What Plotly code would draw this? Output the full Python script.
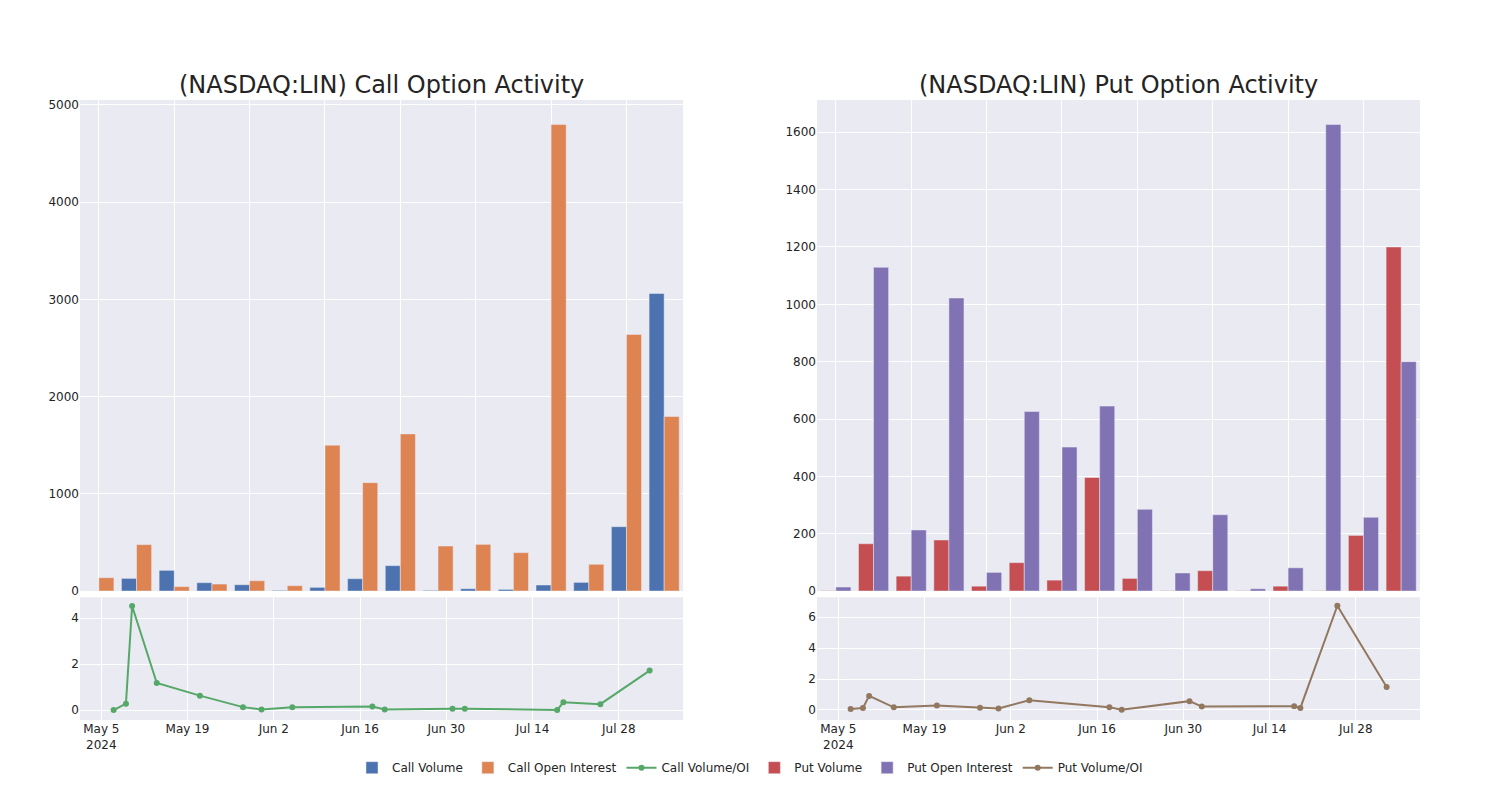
import plotly.graph_objects as go

dates = ["2024-05-07", "2024-05-09", "2024-05-10", "2024-05-14", "2024-05-21",
         "2024-05-28", "2024-05-31", "2024-06-05", "2024-06-18", "2024-06-20",
         "2024-07-01", "2024-07-03", "2024-07-18", "2024-07-19", "2024-07-25",
         "2024-08-02"]

call_volume = [0, 130, 213, 86, 65, 7, 38, 127, 261, 7, 24, 17, 62, 89, 662, 3061]
call_oi = [137, 477, 45, 72, 106, 55, 1500, 1115, 1616, 463, 480, 395, 4798, 275, 2639, 1795]
call_ratio = [0.0, 0.28, 4.53, 1.18, 0.63, 0.13, 0.03, 0.12, 0.16, 0.03, 0.06, 0.06, 0.01, 0.34, 0.26, 1.72]

put_volume = [1, 165, 52, 178, 17, 99, 38, 396, 44, 1, 71, 1, 17, 1, 194, 1200]
put_oi = [14, 1129, 213, 1022, 65, 626, 502, 645, 285, 63, 266, 8, 81, 1627, 257, 800]
put_ratio = [0.065, 0.13, 0.91, 0.17, 0.28, 0.15, 0.09, 0.63, 0.17, 0.02, 0.57, 0.22, 0.24, 0.13, 6.74, 1.48]

titles = ["(NASDAQ:LIN) Call Option Activity", "(NASDAQ:LIN) Put Option Activity"]

fig = go.Figure()

fig.add_trace(go.Bar(x=dates, y=call_volume, name="Call Volume", xaxis="x", yaxis="y"))
fig.add_trace(go.Bar(x=dates, y=call_oi, name="Call Open Interest", xaxis="x", yaxis="y"))
fig.add_trace(go.Scatter(x=dates, y=call_ratio, name="Call Volume/OI", mode="lines+markers",
                         xaxis="x2", yaxis="y2", line=dict(width=2), marker=dict(size=6)))
fig.add_trace(go.Bar(x=dates, y=put_volume, name="Put Volume", xaxis="x3", yaxis="y3"))
fig.add_trace(go.Bar(x=dates, y=put_oi, name="Put Open Interest", xaxis="x3", yaxis="y3"))
fig.add_trace(go.Scatter(x=dates, y=put_ratio, name="Put Volume/OI", mode="lines+markers",
                         xaxis="x4", yaxis="y4", line=dict(width=2), marker=dict(size=6)))

top_dom = [0.208, 1.0]
bot_dom = [0.0, 0.198]
left_dom = [0.0, 0.45]
right_dom = [0.55, 1.0]
date_range = ["2024-05-01 13:00", "2024-08-07 10:00"]
two_weeks = 14 * 86400000

fig.update_layout(
    template="seaborn",
    width=1500, height=800,
    font=dict(family="DejaVu Sans"),
    margin=dict(l=72, r=88, t=92, b=88),
    barmode="group",
    bargap=0.2,
    xaxis=dict(domain=left_dom, anchor="y", type="category", showticklabels=False,
               tickmode="linear", tick0=0, dtick=2),
    yaxis=dict(domain=top_dom, anchor="x"),
    xaxis2=dict(domain=left_dom, anchor="y2", type="date", range=date_range,
                tickmode="linear", tick0="2024-05-05", dtick=two_weeks),
    yaxis2=dict(domain=bot_dom, anchor="x2", range=[-0.43, 4.91], dtick=2),
    xaxis3=dict(domain=right_dom, anchor="y3", type="category", showticklabels=False,
                tickmode="linear", tick0=0, dtick=2),
    yaxis3=dict(domain=top_dom, anchor="x3"),
    xaxis4=dict(domain=right_dom, anchor="y4", type="date", range=date_range,
                tickmode="linear", tick0="2024-05-05", dtick=two_weeks),
    yaxis4=dict(domain=bot_dom, anchor="x4", range=[-0.65, 7.29], dtick=2),
    legend=dict(orientation="h", x=0.5, xanchor="center", y=-0.0535, yanchor="top"),
    annotations=[
        dict(text=titles[0], x=sum(left_dom) / 2, y=1.0, xref="paper", yref="paper",
             xanchor="center", yanchor="bottom", showarrow=False, font=dict(size=24), yshift=-1),
        dict(text=titles[1], x=sum(right_dom) / 2, y=1.0, xref="paper", yref="paper",
             xanchor="center", yanchor="bottom", showarrow=False, font=dict(size=24), yshift=-1),
    ],
)

fig.write_html("out.html")
